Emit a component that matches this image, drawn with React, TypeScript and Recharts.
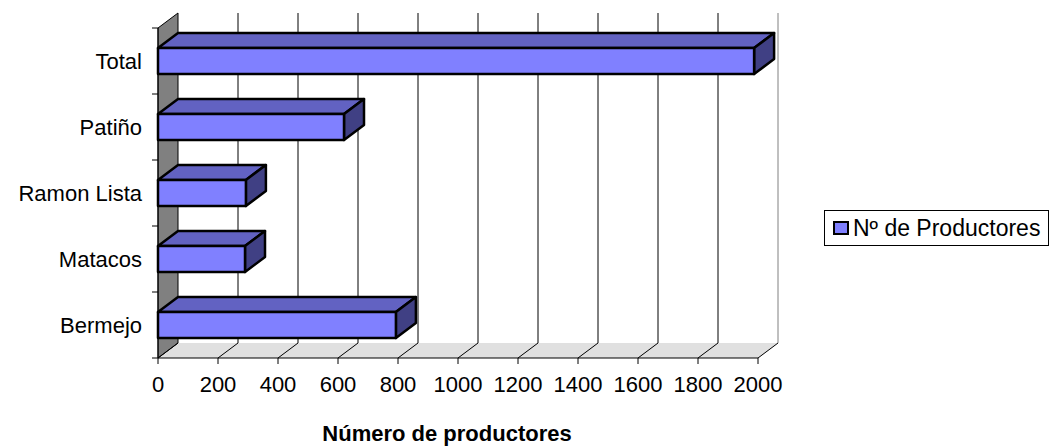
import { BarChart, Bar, XAxis, YAxis, ReferenceArea, Label } from 'recharts';

// ── data ──────────────────────────────────────────────────────────────────────

const CATEGORIES = ['Total', 'Patiño', 'Ramon Lista', 'Matacos', 'Bermejo'];
const PRODUCTORES = [1987, 620, 293, 290, 793];
const X_TICKS = [0, 200, 400, 600, 800, 1000, 1200, 1400, 1600, 1800, 2000];
const X_MAX = 2000;
const SERIES_NAME = 'Nº de Productores';
const AXIS_TITLE = 'Número de productores';

const data = CATEGORIES.map((name, i) => ({ name, value: PRODUCTORES[i] }));

// ── style ─────────────────────────────────────────────────────────────────────

const FONT = '"Liberation Sans", Arial, sans-serif';
const DX = 20;   // 3d depth, horizontal
const DY = 15;   // 3d depth, vertical
const FRONT = '#8080FF';
const TOP = '#6262C2';
const SIDE = '#404084';
const WALL = '#808080';
const FLOOR = '#E0E0E0';
const TICK_SIZE = 6;
const Y_TICK_MARGIN = 8;

// walls + back grid, drawn from the area the x domain covers
function Walls(props: any) {
  const { x, y, width, height } = props;
  const bottom = y + height;
  return (
    <g>
      <polygon
        points={`${x},${bottom} ${x + DX},${bottom - DY} ${x + width + DX},${bottom - DY} ${x + width},${bottom}`}
        fill={FLOOR}
      />
      <polygon
        points={`${x},${y} ${x + DX},${y - DY} ${x + DX},${bottom - DY} ${x},${bottom}`}
        fill={WALL}
        stroke="#000"
        strokeWidth={1}
      />
      {X_TICKS.map((t, i) => {
        const gx = x + (width * t) / X_MAX;
        const last = i === X_TICKS.length - 1;
        return (
          <g key={t}>
            {i > 0 && (
              <line x1={gx + DX} y1={y - DY} x2={gx + DX} y2={bottom - DY}
                stroke={last ? '#808080' : '#000'} strokeWidth={1} />
            )}
            <line x1={gx} y1={bottom} x2={gx + DX} y2={bottom - DY} stroke="#000" strokeWidth={1} />
          </g>
        );
      })}
    </g>
  );
}

function Bar3D(props: any) {
  const { x, y, width: w, height: h } = props;
  if (w == null || h == null) return null;
  return (
    <g stroke="#000" strokeWidth={2.5} strokeLinejoin="round">
      <polygon points={`${x},${y} ${x + DX},${y - DY} ${x + w + DX},${y - DY} ${x + w},${y}`} fill={TOP} />
      <polygon points={`${x + w},${y} ${x + w + DX},${y - DY} ${x + w + DX},${y + h - DY} ${x + w},${y + h}`} fill={SIDE} />
      <rect x={x} y={y} width={w} height={h} fill={FRONT} />
    </g>
  );
}

// category tick: label in the band centre, tick marks on the band edges
function CategoryTick(props: any) {
  const { x, y, payload, index } = props;
  const off = payload?.offset ?? 33;
  const lx = x + Y_TICK_MARGIN;
  return (
    <g>
      <line x1={lx} y1={y - off} x2={lx + TICK_SIZE} y2={y - off} stroke="#000" />
      {index === CATEGORIES.length - 1 && (
        <line x1={lx} y1={y + off} x2={lx + TICK_SIZE} y2={y + off} stroke="#000" />
      )}
      <text x={x - 2} y={y} dy="0.36em" textAnchor="end" fontSize={22} fontFamily={FONT} fill="#000">
        {payload.value}
      </text>
    </g>
  );
}

// ── main ──────────────────────────────────────────────────────────────────────

export default function App() {
  return (
    <div style={{ position: 'absolute', left: 0, top: 0, width: 1059, height: 446, background: '#fff', fontFamily: FONT }}>
      <BarChart
        width={1059}
        height={446}
        data={data}
        layout="vertical"
        barSize={26}
        margin={{ top: 28, right: 301, bottom: 0, left: 0 }}
      >
        <ReferenceArea x1={0} x2={X_MAX} shape={Walls} ifOverflow="visible" zIndex={-10} />
        <XAxis
          type="number"
          domain={[0, X_MAX]}
          ticks={X_TICKS}
          height={88}
          tickSize={TICK_SIZE}
          tickMargin={12}
          interval={0}
          axisLine={{ stroke: '#000' }}
          tickLine={{ stroke: '#000' }}
          tick={{ fill: '#000', fontSize: 22, fontFamily: FONT }}
        >
          <Label
            content={({ viewBox }: any) => (
              <text
                x={viewBox.x + viewBox.width / 2 - 11}
                y={viewBox.y + viewBox.height - 5}
                textAnchor="middle"
                fontSize={22}
                fontWeight="bold"
                fontFamily={FONT}
                fill="#000"
              >
                {AXIS_TITLE}
              </text>
            )}
          />
        </XAxis>
        <YAxis
          type="category"
          dataKey="name"
          width={158}
          tickSize={TICK_SIZE}
          tickMargin={Y_TICK_MARGIN}
          tickLine={false}
          axisLine={{ stroke: '#000' }}
          tick={<CategoryTick />}
          interval={0}
        />
        <Bar dataKey="value" name={SERIES_NAME} shape={Bar3D} isAnimationActive={false} />
      </BarChart>

      <div
        style={{
          position: 'absolute', left: 824, top: 210, width: 225, height: 36,
          border: '1px solid #000', boxSizing: 'border-box',
          display: 'flex', alignItems: 'center',
        }}
      >
        <span
          style={{
            display: 'inline-block', width: 16, height: 14, marginLeft: 8,
            background: FRONT, border: '2px solid #000', boxSizing: 'border-box',
          }}
        />
        <span style={{ marginLeft: 4, fontSize: 23, color: '#000', whiteSpace: 'nowrap' }}>{SERIES_NAME}</span>
      </div>
    </div>
  );
}
